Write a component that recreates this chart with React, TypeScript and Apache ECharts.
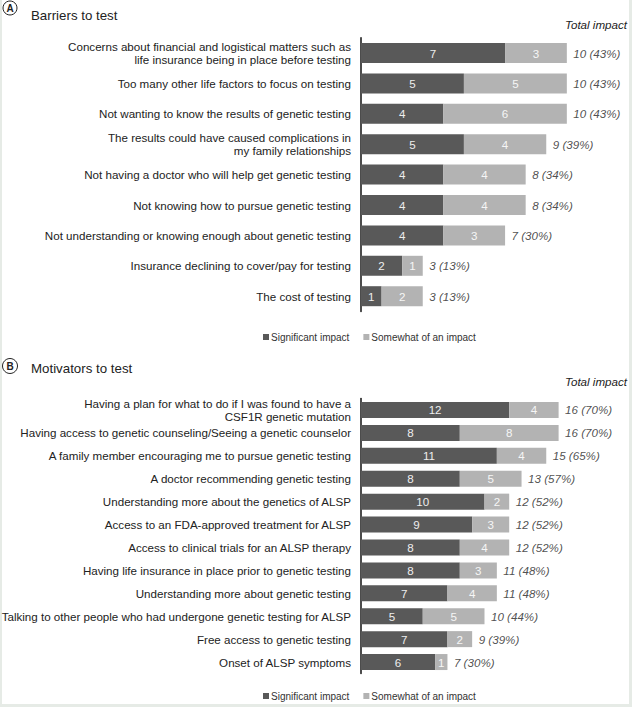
import React, { useEffect, useRef } from "react";
import * as echarts from "echarts";

const barrierCategories = [
  "Concerns about financial and logistical matters such as\nlife insurance being in place before testing",
  "Too many other life factors to focus on testing",
  "Not wanting to know the results of genetic testing",
  "The results could have caused complications in\nmy family relationships",
  "Not having a doctor who will help get genetic testing",
  "Not knowing how to pursue genetic testing",
  "Not understanding or knowing enough about genetic testing",
  "Insurance declining to cover/pay for testing",
  "The cost of testing",
];
const barrierSignificant = [7, 5, 4, 5, 4, 4, 4, 2, 1];
const barrierSomewhat = [3, 5, 6, 4, 4, 4, 3, 1, 2];
const barrierPercent = [43, 43, 43, 39, 34, 34, 30, 13, 13];

const motivatorCategories = [
  "Having a plan for what to do if I was found to have a\nCSF1R genetic mutation",
  "Having access to genetic counseling/Seeing a genetic counselor",
  "A family member encouraging me to pursue genetic testing",
  "A doctor recommending genetic testing",
  "Understanding more about the genetics of ALSP",
  "Access to an FDA-approved treatment for ALSP",
  "Access to clinical trials for an ALSP therapy",
  "Having life insurance in place prior to genetic testing",
  "Understanding more about genetic testing",
  "Talking to other people who had undergone genetic testing for ALSP",
  "Free access to genetic testing",
  "Onset of ALSP symptoms",
];
const motivatorSignificant = [12, 8, 11, 8, 10, 9, 8, 8, 7, 5, 7, 6];
const motivatorSomewhat = [4, 8, 4, 5, 2, 3, 4, 3, 4, 5, 2, 1];
const motivatorPercent = [70, 70, 65, 57, 52, 52, 52, 48, 48, 44, 39, 30];

const seriesNames = ["Significant impact", "Somewhat of an impact"];
const FONT = "'Liberation Sans', Arial, Helvetica, sans-serif";
const DARK = "#595959";
const LIGHT = "#b3b3b3";
const FS = 11.6;

function buildSeries(
  idx: number,
  sig: number[],
  some: number[],
  pct: number[],
  barWidth: number
) {
  const totals = sig.map((v, i) => v + some[i]);
  return [
    {
      name: seriesNames[0],
      type: "bar",
      stack: "s" + idx,
      xAxisIndex: idx,
      yAxisIndex: idx,
      barWidth,
      data: sig,
      itemStyle: { color: DARK },
      label: {
        show: true,
        position: "inside",
        color: "#eeeeee",
        fontSize: FS,
        fontFamily: FONT,
      },
    },
    {
      name: seriesNames[1],
      type: "bar",
      stack: "s" + idx,
      xAxisIndex: idx,
      yAxisIndex: idx,
      barWidth,
      data: some,
      itemStyle: { color: LIGHT },
      label: {
        show: true,
        position: "inside",
        color: "#f6f6f6",
        fontSize: FS,
        fontFamily: FONT,
      },
    },
    {
      name: "total" + idx,
      type: "scatter",
      xAxisIndex: idx,
      yAxisIndex: idx,
      symbolSize: 1,
      itemStyle: { color: "rgba(0,0,0,0)" },
      data: totals.map((t, i) => [t, i]),
      label: {
        show: true,
        position: "right",
        distance: 6,
        color: "#222",
        fontSize: FS,
        fontStyle: "italic",
        fontFamily: FONT,
        formatter: (p: any) => `${totals[p.dataIndex]} (${pct[p.dataIndex]}%)`,
      },
    },
  ];
}

function yAxis(idx: number, cats: string[]) {
  return {
    type: "category",
    gridIndex: idx,
    inverse: true,
    data: cats,
    axisLine: { show: true, lineStyle: { color: "#111", width: 1.5 } },
    axisTick: { show: false },
    axisLabel: {
      color: "#222",
      fontSize: FS,
      fontFamily: FONT,
      margin: 10,
      lineHeight: 13,
      align: "right",
    },
  };
}

function legend(top: number) {
  return {
    data: seriesNames,
    left: 258,
    top,
    itemWidth: 6,
    itemHeight: 6,
    itemGap: 14,
    icon: "rect",
    textStyle: { fontSize: 10, color: "#333", fontFamily: FONT, padding: [0, 0, 0, -3] },
  };
}

export default function App() {
  const ref = useRef<HTMLDivElement>(null);
  useEffect(() => {
    if (!ref.current) return;
    const chart = echarts.init(ref.current, undefined, { renderer: "svg" });
    chart.setOption({
      animation: false,
      textStyle: { fontFamily: FONT },
      grid: [
        { left: 361, width: 247, top: 37.8, height: 273.6, containLabel: false, outerBoundsMode: "none" },
        { left: 361, width: 247, top: 398.5, height: 275, containLabel: false, outerBoundsMode: "none" },
      ],
      xAxis: [
        { type: "value", gridIndex: 0, min: 0, max: 12, show: false },
        { type: "value", gridIndex: 1, min: 0, max: 20, show: false },
      ],
      yAxis: [yAxis(0, barrierCategories), yAxis(1, motivatorCategories)],
      legend: [legend(327), legend(686)],
      graphic: [
        { type: "circle", shape: { cx: 10, cy: 8, r: 7 }, style: { fill: "#fff", stroke: "#222", lineWidth: 1 } },
        { type: "text", x: 10, y: 8, style: { text: "A", fill: "#222", font: `bold 10px ${FONT}`, textAlign: "center", textVerticalAlign: "middle" } },
        { type: "text", x: 31, y: 15, style: { text: "Barriers to test", fill: "#222", font: `13.3px ${FONT}`, textAlign: "left", textVerticalAlign: "middle" } },
        { type: "text", x: 627, y: 24, style: { text: "Total impact", fill: "#222", font: `italic ${FS}px ${FONT}`, textAlign: "right", textVerticalAlign: "middle" } },
        { type: "circle", shape: { cx: 10, cy: 366, r: 7.5 }, style: { fill: "#fff", stroke: "#222", lineWidth: 1 } },
        { type: "text", x: 10, y: 366, style: { text: "B", fill: "#222", font: `bold 10px ${FONT}`, textAlign: "center", textVerticalAlign: "middle" } },
        { type: "text", x: 31, y: 368, style: { text: "Motivators to test", fill: "#222", font: `13.3px ${FONT}`, textAlign: "left", textVerticalAlign: "middle" } },
        { type: "text", x: 627, y: 381, style: { text: "Total impact", fill: "#222", font: `italic ${FS}px ${FONT}`, textAlign: "right", textVerticalAlign: "middle" } },
      ],
      series: [
        ...buildSeries(0, barrierSignificant, barrierSomewhat, barrierPercent, 20),
        ...buildSeries(1, motivatorSignificant, motivatorSomewhat, motivatorPercent, 16),
      ],
    });
    return () => chart.dispose();
  }, []);
  return (
    <div style={{ position: "fixed", left: 0, top: 0, width: 632, height: 707, background: "#e6ebe6" }}>
      <div style={{ position: "absolute", left: 2, top: 0, width: 627, height: 704, background: "#fff" }} />
      <div ref={ref} style={{ position: "absolute", left: 0, top: 0, width: 632, height: 707 }} />
    </div>
  );
}
